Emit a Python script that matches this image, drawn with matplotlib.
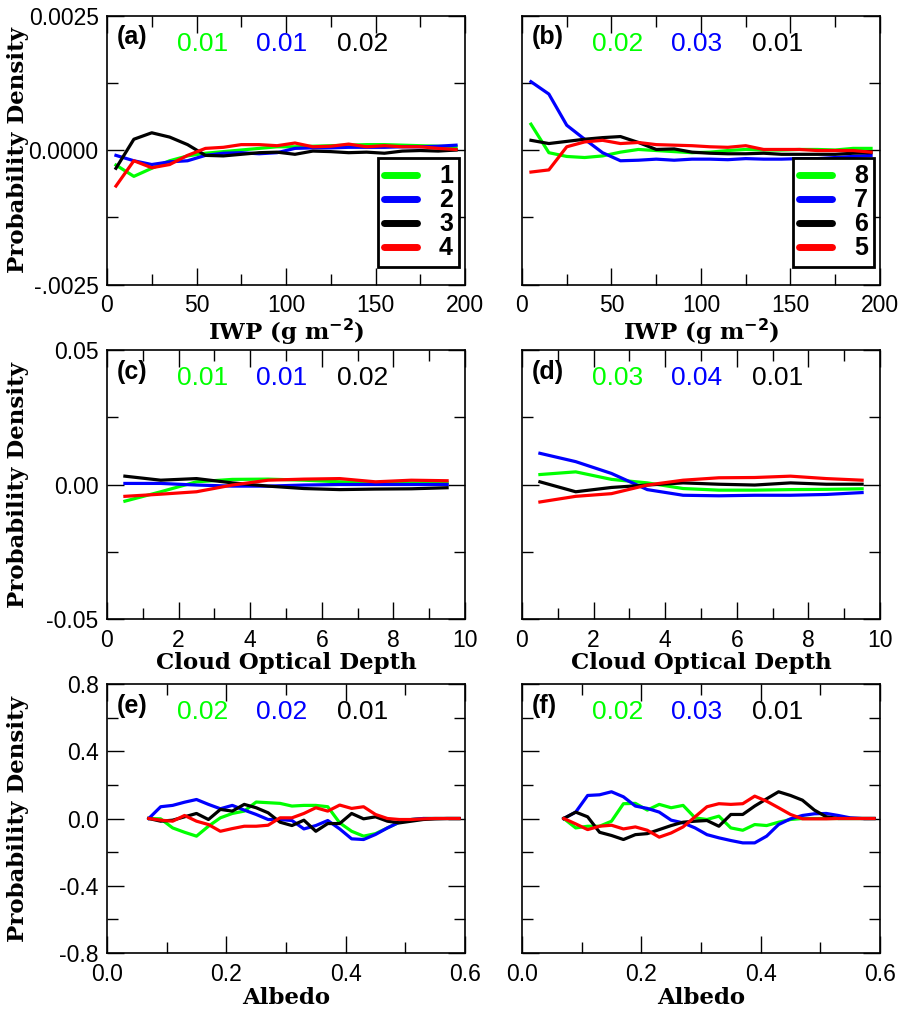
import numpy as np
import matplotlib
matplotlib.use('Agg')
import matplotlib.pyplot as plt
from matplotlib.ticker import MultipleLocator

# bin centres
iwp_x = [5, 15, 25, 35, 45, 55, 65, 75, 85, 95, 105, 115, 125, 135, 145, 155, 165, 175, 185, 195]
cod_x = [0.5, 1.5, 2.5, 3.5, 4.5, 5.5, 6.5, 7.5, 8.5, 9.5]
alb_x = [0.07, 0.09, 0.11, 0.13, 0.15, 0.17, 0.19, 0.21, 0.23, 0.25, 0.27, 0.29, 0.31, 0.33,
         0.35, 0.37, 0.39, 0.41, 0.43, 0.45, 0.47, 0.49, 0.51, 0.53, 0.55, 0.57, 0.59]

# (a) IWP, groups 1-4
a_g1 = [-0.00028, -0.00049, -0.00034, -0.0002, -0.00011, -0.00006, -0.00003, 0.0, 0.00003, 0.00006,
        0.00006, 0.00007, 0.00008, 0.00009, 0.0001, 0.0001, 0.00009, 0.00008, 0.00007, 0.00006]
a_g2 = [-0.0001, -0.0002, -0.00027, -0.00022, -0.0002, -0.0001, -0.00006, -0.00005, -0.00007, -0.00005,
        0.00003, 0.00004, 0.00004, 0.00005, 0.00005, 0.00005, 0.00006, 0.00006, 0.00007, 0.00009]
a_g3 = [-0.00034, 0.0002, 0.00032, 0.00024, 0.0001, -0.0001, -0.00011, -0.00008, -0.00005, -0.00004,
        -0.00008, -0.00002, -0.00003, -0.00005, -0.00004, -0.00006, -0.00002, -0.00001, -0.00002, 0.0]
a_g4 = [-0.00067, -0.0002, -0.00033, -0.00027, -0.0001, 0.00003, 0.00005, 0.0001, 0.0001, 0.00008,
        0.00013, 0.00006, 0.00007, 0.00011, 0.00006, 0.00008, 0.00006, 0.00006, 0.00003, 0.00001]

# (b) IWP, groups 8-5
b_g8 = [0.00048, -0.00005, -0.00012, -0.00014, -0.00011, -0.00004, 0.00001, -0.00001, -0.00003, -0.00005,
        -0.00004, -0.00001, 0.00001, 0.0, 0.0, 0.00001, 0.00001, 0.0, 0.00003, 0.00003]
b_g7 = [0.00127, 0.00104, 0.00046, 0.0002, -0.00005, -0.0002, -0.00019, -0.00017, -0.00019, -0.00017,
        -0.00017, -0.00018, -0.00016, -0.00017, -0.00017, -0.00016, -0.00016, -0.00014, -0.00012, -0.0001]
b_g6 = [0.00018, 0.00012, 0.00016, 0.0002, 0.00023, 0.00025, 0.00014, 0.00001, 0.00002, -0.00004,
        -0.00006, -0.00007, -0.00007, -0.00006, -0.00008, -0.00008, -0.00008, -0.00008, -0.00006, -0.00005]
b_g5 = [-0.00041, -0.00037, 0.00006, 0.00015, 0.00018, 0.00012, 0.00014, 0.0001, 0.00009, 0.00008,
        0.00006, 0.00005, 0.00008, 0.00001, 0.00001, 0.00001, -0.00001, -0.00001, -0.00001, -0.00004]

# (c) cloud optical depth, groups 1-4
c_g1 = [-0.0062, -0.0027, 0.001, 0.0019, 0.002, 0.0016, 0.001, 0.0006, 0.0006, 0.0006]
c_g2 = [0.0004, 0.0004, -0.0002, -0.0006, -0.0006, -0.0002, 0.0, 0.0, 0.0, 0.0]
c_g3 = [0.0031, 0.0016, 0.0022, 0.0006, -0.0006, -0.0015, -0.0019, -0.0017, -0.0016, -0.0012]
c_g4 = [-0.0044, -0.0036, -0.0027, -0.0002, 0.0016, 0.002, 0.0022, 0.001, 0.0016, 0.0014]

# (d) cloud optical depth, groups 8-5
d_g8 = [0.0037, 0.0047, 0.0019, 0.0006, -0.0015, -0.0021, -0.0021, -0.0019, -0.0018, -0.0016]
d_g7 = [0.0116, 0.0085, 0.0041, -0.0019, -0.004, -0.0042, -0.004, -0.004, -0.0037, -0.003]
d_g6 = [0.001, -0.0027, -0.0011, -0.0002, 0.0006, 0.0001, -0.0002, 0.0006, 0.0001, 0.0001]
d_g5 = [-0.0065, -0.0044, -0.0034, -0.0002, 0.0016, 0.0025, 0.0026, 0.0031, 0.0022, 0.0016]

# (e) albedo, groups 1-4
e_g1 = [0, -0.002, -0.056, -0.082, -0.105, -0.046, 0.004, 0.03, 0.044, 0.098, 0.094, 0.09, 0.074, 0.078,
        0.078, 0.07, -0.026, -0.076, -0.105, -0.09, -0.056, -0.022, -0.006, 0, 0, 0, 0]
e_g2 = [0, 0.07, 0.078, 0.097, 0.113, 0.084, 0.058, 0.078, 0.05, 0.024, -0.006, -0.006, -0.012, -0.062,
        -0.042, -0.012, -0.062, -0.121, -0.125, -0.095, -0.056, -0.022, -0.006, 0, 0, 0, 0]
e_g3 = [0, -0.016, -0.01, 0.01, 0.03, -0.006, 0.054, 0.044, 0.084, 0.064, 0.034, -0.022, -0.042, -0.01,
        -0.076, -0.03, -0.03, 0.03, -0.002, 0.01, -0.016, -0.026, -0.016, -0.006, -0.002, 0, 0]
e_g4 = [0, -0.01, -0.016, 0.018, -0.016, -0.036, -0.076, -0.06, -0.046, -0.046, -0.04, 0.004, 0.004, 0.03,
        0.064, 0.044, 0.08, 0.06, 0.07, 0.024, 0, -0.006, -0.006, -0.002, 0, 0, 0]

# (f) albedo, groups 8-5
f_g8 = [0, -0.056, -0.046, -0.046, -0.016, 0.088, 0.09, 0.05, 0.084, 0.064, 0.078, 0.004, -0.006, 0.014,
        -0.056, -0.07, -0.036, -0.042, -0.022, -0.006, 0, 0, 0, 0, 0, 0, 0]
f_g7 = [0, 0.038, 0.137, 0.141, 0.159, 0.129, 0.074, 0.06, 0.038, -0.01, -0.026, -0.056, -0.096, -0.115,
        -0.131, -0.145, -0.145, -0.105, -0.036, -0.002, 0.018, 0.028, 0.03, 0.018, 0.004, 0, 0]
f_g6 = [0, 0.038, 0.01, -0.082, -0.101, -0.125, -0.096, -0.09, -0.066, -0.042, -0.022, -0.016, -0.012, -0.046,
        0.024, 0.024, 0.074, 0.117, 0.159, 0.137, 0.109, 0.05, 0.01, 0, 0, 0, 0]
f_g5 = [0, -0.032, -0.066, -0.046, -0.04, -0.062, -0.05, -0.07, -0.111, -0.086, -0.05, 0.01, 0.07, 0.088,
        0.084, 0.088, 0.133, 0.103, 0.064, 0.024, -0.002, -0.002, -0.002, 0, 0, 0, 0]

# numbers printed at the top of each panel (green, blue, black)
top_vals = {'a': ['0.01', '0.01', '0.02'], 'b': ['0.02', '0.03', '0.01'],
            'c': ['0.01', '0.01', '0.02'], 'd': ['0.03', '0.04', '0.01'],
            'e': ['0.02', '0.02', '0.01'], 'f': ['0.02', '0.03', '0.01']}

left_labels = ['1', '2', '3', '4']
right_labels = ['8', '7', '6', '5']
colors = ['#00ff00', '#0000ff', '#000000', '#ff0000']

# tick positions / labels per row
iwp_ticks = [0, 50, 100, 150, 200]
iwp_ticklabels = ['0', '50', '100', '150', '200']
cod_ticks = [0, 2, 4, 6, 8, 10]
cod_ticklabels = ['0', '2', '4', '6', '8', '10']
alb_ticks = [0.0, 0.2, 0.4, 0.6]
alb_ticklabels = ['0.0', '0.2', '0.4', '0.6']

SERIF = 'DejaVu Serif'
SANS = 'Liberation Sans'

fig = plt.figure(figsize=(9.04, 10.17), dpi=100)
W, H = 904.0, 1017.0
col_left = [107, 522]
row_top = [15.5, 350, 684]
ax_w, ax_h = 358, 269


def make_ax(row, col):
    l = col_left[col] / W
    b = 1 - (row_top[row] + ax_h) / H
    return fig.add_axes([l, b, ax_w / W, ax_h / H])


panels = [
    ('a', 0, 0, iwp_x, [a_g1, a_g2, a_g3, a_g4]),
    ('b', 0, 1, iwp_x, [b_g8, b_g7, b_g6, b_g5]),
    ('c', 1, 0, cod_x, [c_g1, c_g2, c_g3, c_g4]),
    ('d', 1, 1, cod_x, [d_g8, d_g7, d_g6, d_g5]),
    ('e', 2, 0, alb_x, [e_g1, e_g2, e_g3, e_g4]),
    ('f', 2, 1, alb_x, [f_g8, f_g7, f_g6, f_g5]),
]

for key, row, col, xs, series in panels:
    ax = make_ax(row, col)
    labs = left_labels if col == 0 else right_labels
    for i in range(4):
        ax.plot(xs, series[i], color=colors[i], lw=2.3, label=labs[i])

    if row == 0:
        ax.set_xlim(0, 200)
        ax.set_ylim(-0.0025, 0.0025)
        ax.set_xticks(iwp_ticks, iwp_ticklabels)
        ax.xaxis.set_minor_locator(MultipleLocator(25))
        yt = [-0.0025, 0.0, 0.0025]
        ylabs = ['-.0025', '0.0000', '0.0025']
        ax.yaxis.set_minor_locator(MultipleLocator(0.00125))
        xlabel = r'IWP (g m$^{\mathbf{-2}}$)'
        xl_y = -0.175
    elif row == 1:
        ax.set_xlim(0, 10)
        ax.set_ylim(-0.05, 0.05)
        ax.set_xticks(cod_ticks, cod_ticklabels)
        ax.xaxis.set_minor_locator(MultipleLocator(1))
        yt = [-0.05, 0.0, 0.05]
        ylabs = ['-0.05', '0.00', '0.05']
        ax.yaxis.set_minor_locator(MultipleLocator(0.025))
        xlabel = 'Cloud Optical Depth'
        xl_y = -0.165
    else:
        ax.set_xlim(0, 0.6)
        ax.set_ylim(-0.8, 0.8)
        ax.set_xticks(alb_ticks, alb_ticklabels)
        ax.xaxis.set_minor_locator(MultipleLocator(0.1))
        yt = [-0.8, -0.4, 0.0, 0.4, 0.8]
        ylabs = ['-0.8', '-0.4', '0.0', '0.4', '0.8']
        ax.yaxis.set_minor_locator(MultipleLocator(0.2))
        xlabel = 'Albedo'
        xl_y = -0.168

    if col == 0:
        ax.set_yticks(yt, ylabs)
        ax.set_ylabel('Probability Density', fontfamily=SERIF, fontweight='bold',
                      fontsize=16.5, va='center')
        ax.yaxis.set_label_coords(-0.249, 0.5)
    else:
        ax.set_yticks(yt, [''] * len(yt))

    ax.tick_params(which='both', direction='in', top=True, right=True,
                   labelsize=16.5, width=1)
    ax.tick_params(axis='x', pad=7)
    ax.tick_params(axis='y', pad=6)
    ax.tick_params(which='major', length=12)
    ax.tick_params(which='minor', length=8)
    for lab in ax.get_xticklabels() + ax.get_yticklabels():
        lab.set_fontfamily(SANS)

    ax.set_xlabel(xlabel, fontfamily=SERIF, fontweight='bold', fontsize=16.5)
    ax.xaxis.set_label_coords(0.5, xl_y)
    ax.xaxis.label.set_va('center')
    for sp in ax.spines.values():
        sp.set_linewidth(1.2)

    ax.text(0.028, 0.92, '(' + key + ')', transform=ax.transAxes, fontfamily=SANS,
            fontweight='bold', fontsize=18, ha='left', va='center')
    for v, c, xp in zip(top_vals[key], colors[:3], [0.268, 0.489, 0.715]):
        ax.text(xp, 0.895, v, transform=ax.transAxes, color=c, fontfamily=SANS,
                fontsize=19, ha='center', va='center')

    if row == 0:
        leg = ax.legend(loc='lower right', bbox_to_anchor=(0.984, 0.066), frameon=True,
                        fancybox=False, edgecolor='black', framealpha=1,
                        prop={'family': SANS, 'weight': 'bold', 'size': 18},
                        handlelength=1.3, handletextpad=0.9, labelspacing=0.0,
                        borderpad=0.25, borderaxespad=0)
        leg.get_frame().set_linewidth(2)
        for h in leg.get_lines():
            h.set_linewidth(5)
            h.set_solid_capstyle('round')

fig.savefig('out.png', dpi=100)
